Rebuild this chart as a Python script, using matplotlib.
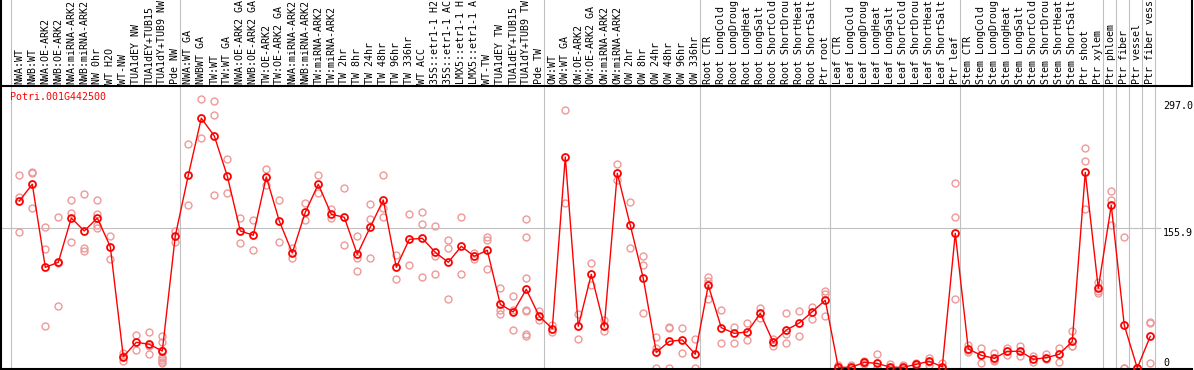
import numpy as np
import matplotlib
matplotlib.use("Agg")
import matplotlib.pyplot as plt

gene = "Potri.001G442500"

labels = [
    # NW
    "NWA:WT", "NWB:WT", "NWA:OE-ARK2", "NWB:OE-ARK2", "NWA:miRNA-ARK2", "NWB:miRNA-ARK2",
    "NW 0hr", "WT H2O", "WT-NW", "TUA1dEY NW", "TUA1dEY+TUB15", "TUA1dY+TUB9 NW", "Pde NW",
    # TW
    "NWA:WT GA", "NWBWT GA", "TW:WT", "TW:WT GA", "NWA:OE-ARK2 GA", "NWB:OE-ARK2 GA",
    "TW:OE-ARK2", "TW:OE-ARK2 GA", "NWA:miRNA-ARK2", "NWB:miRNA-ARK2", "TW:miRNA-ARK2",
    "TW:miRNA-ARK2", "TW 2hr", "TW 8hr", "TW 24hr", "TW 48hr", "TW 96hr", "TW 336hr",
    "WT ACC", "35S::etr1-1 H2", "35S::etr1-1 AC", "LMX5::etr1-1 H", "LMX5::etr1-1 A",
    "WT-TW", "TUA1dEY TW", "TUA1dEY+TUB15", "TUA1dY+TUB9 TW", "Pde TW",
    # OW
    "OW:WT", "OW:WT GA", "OW:OE-ARK2", "OW:OE-ARK2 GA", "OW:miRNA-ARK2", "OW:miRNA-ARK2",
    "OW 2hr", "OW 8hr", "OW 24hr", "OW 48hr", "OW 96hr", "OW 336hr",
    # root
    "Root CTR", "Root LongCold", "Root LongDroug", "Root LongHeat", "Root LongSalt",
    "Root ShortCold", "Root ShortDrou", "Root ShortHeat", "Root ShortSalt", "Ptr root",
    # leaf
    "Leaf CTR", "Leaf LongCold", "Leaf LongDroug", "Leaf LongHeat", "Leaf LongSalt",
    "Leaf ShortCold", "Leaf ShortDrou", "Leaf ShortHeat", "Leaf ShortSalt", "Ptr leaf",
    # stem
    "Stem CTR", "Stem LongCold", "Stem LongDroug", "Stem LongHeat", "Stem LongSalt",
    "Stem ShortCold", "Stem ShortDrou", "Stem ShortHeat", "Stem ShortSalt", "Ptr shoot",
    "Ptr xylem",
    "Ptr phloem", "Ptr fiber", "Ptr vessel", "Ptr fiber vess",
]
group_sizes = [13, 28, 12, 10, 10, 11, 1, 1, 1, 1]

means = [
    186.0, 204.6, 112.1, 117.7, 167.0, 152.6, 167.0, 135.1, 12.6, 28.6, 26.4, 18.9, 147.0,
    214.6, 278.1, 258.4, 213.8, 152.6, 147.8, 212.7, 163.7, 128.1, 173.4, 204.6, 171.2,
    167.8, 126.6, 157.0, 187.1, 112.1, 143.3, 144.4, 128.8, 117.7, 135.5, 124.4, 131.1,
    70.9, 62.4, 87.6, 57.6,
    43.8, 235.0, 46.4, 104.3, 46.4, 216.8, 158.9, 99.9, 17.5, 29.7, 31.2, 15.3,
    92.1, 44.9, 38.6, 40.1, 60.9, 28.6, 42.3, 50.1, 62.7, 75.4,
    0.8, 0.8, 6.3, 5.2, 0.8, 0.8, 4.1, 7.5, 1.4, 150.0,
    21.2, 14.1, 10.8, 18.6, 18.6, 9.7, 11.5, 15.3, 29.7, 217.9, 88.8,
    181.2, 47.6, 0.0, 35.3,
]

reps = [
    [214.6, 190.4, 151.1], [218, 217, 178], [157.0, 132.5, 46.4], [168, 117, 69],
    [186.7, 172.3, 140.0], [193.4, 133.6, 130.0], [186.7, 171.2, 159.6, 155.9], [147.0, 121.0],
    [17, 13, 8], [36.7, 20.4], [39.8, 24, 15.3], [36, 29.3, 20, 12.6, 10.8, 8.9, 7.0, 5.2],
    [152.9, 140.0],
    [249.1, 181.2], [299.0, 255.8], [297.0, 281.4, 192.3], [232.4, 194.5], [167.0, 138.9],
    [164.5, 131.1], [221.3, 203.5], [186.7, 140.0], [133.3, 122.2], [183.4, 164.5],
    [214.6, 194.5], [176.7, 166.7], [200.1, 136.6], [146.7, 122.2, 107.7],
    [182.3, 165.6, 122.2], [214.6, 177.8, 167.8], [125.5, 98.8], [171.2, 114.4],
    [173.4, 160.0, 101.0], [157.8, 124.4, 104.3], [142.2, 133.3, 76.5], [167.8, 104.3],
    [127.7, 121.0], [145.5, 142.2, 109.9], [88.8, 64.3, 59.8], [79.8, 64.3, 42.0],
    [165.6, 145.5, 99.9, 64.3, 63.1, 37.5, 35.3], [63.1, 53.1],
    [48, 39.8], [287.0, 183.4], [59.8, 32.0], [116.6, 92.1], [53.1, 40.9], [226.8, 209.0],
    [184.5, 133.3], [124.4, 114.4, 60.9], [34.2, 21.9, 0], [45.3, 44.2, 0], [44.2, 16.4],
    [32.0, 0],
    [101.0, 96.5, 76.5], [64.3, 27.5], [45.3, 27.5], [49.8, 30.8], [66.5, 55.3],
    [32.0, 24.2], [60.9, 37.5, 27.5], [63.1, 35.3], [67.6, 54.2], [85.4, 82.1, 57.6],
    [3, 0, 0], [3, 0, 0], [8, 6, 5], [15.3, 0, 0], [4, 0, 0], [3, 0, 0], [6, 3, 2],
    [11, 7, 3], [6, 0, 0], [205.7, 167.8, 76.5],
    [25.3, 19.7, 17.5], [21.9, 5.2], [16.4, 8.6, 8], [21.9, 14.1], [24.2, 13.0],
    [13.0, 6.3], [15.3, 9.7], [21.9, 6.3], [40.9, 24.2, 24], [244.7, 230.2, 176.7],
    [95.4, 85.4, 83.2],
    [196.8, 186.7, 158.9], [145.5, 0, 0], [0, 0, 0], [51, 50, 5.2],
]

yticks = [297.0, 155.9, 0]

W, H = 1194, 370
font = "DejaVu Sans Mono"
grey = "#c0c0c0"

fig = plt.figure(figsize=(W / 100, H / 100), dpi=100)
ax = fig.add_axes([0.5 / W, 1 / H, 1191.5 / W, 283 / H])
lab = fig.add_axes([0.5 / W, 284 / H, 1191.5 / W, 86 / H], sharex=ax)

x = np.arange(len(means))
ax.set_xlim(-1.446, 90.21)
ax.set_ylim(-1.11, 314.0)

# group separators (also run through the label strip)
ends = np.cumsum([0] + group_sizes) - 1
for e in ends:
    for a in (ax, lab):
        a.axvline(e + 0.36, color=grey, lw=0.8, zorder=0)
ax.axhline(155.9, xmax=0.973, color=grey, lw=0.8, zorder=0)

# replicates
for i, r in enumerate(reps):
    ax.plot([i] * len(r), r, "o", ms=5, mfc="none", mec="#ee9999", mew=1.0,
            zorder=2, clip_on=False)

# mean line
ax.plot(x, means, "-", color="#ff0000", lw=1.0, zorder=3, clip_on=False)
ax.plot(x, means, "o", ms=5, mfc="none", mec="#ff0000", mew=1.3, zorder=4, clip_on=False)

ax.text((10 - 0.5) / 1191.5, 1 - 11 / 283, gene, transform=ax.transAxes, color="#ff0000",
        family=font, fontsize=7.2, va="center", ha="left")

for v in yticks:
    ax.text((1163 - 0.5) / 1191.5, v, f"{v:.1f}" if v else "0",
            transform=ax.get_yaxis_transform(), family=font, fontsize=7.2,
            ha="left", va="bottom" if v == 0 else "top")

for i, t in enumerate(labels):
    lab.text(i, 2 / 86, t, transform=lab.get_xaxis_transform(), rotation=90,
             ha="center", va="bottom", family=font, fontsize=7.2)

for a in (ax, lab):
    a.set_xticks([])
    a.set_yticks([])
    a.set_facecolor("none")
    for s in a.spines.values():
        s.set_color("black")
        s.set_linewidth(1.5)
ax.spines["top"].set_visible(False)
ax.spines["right"].set_visible(False)
lab.spines["top"].set_visible(False)
lab.set_ylim(0, 1)

fig.savefig("out.png", dpi=100)
